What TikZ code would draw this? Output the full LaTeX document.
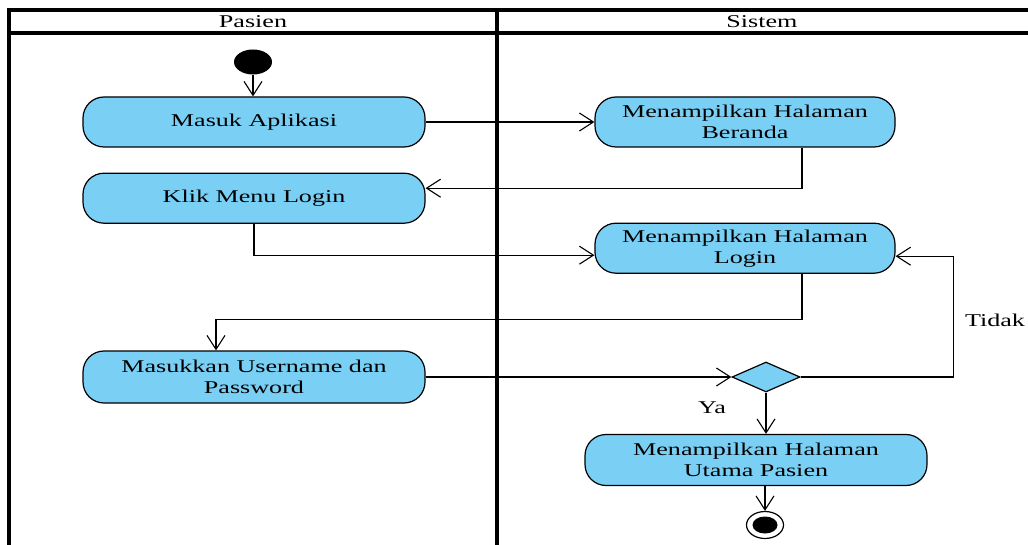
\documentclass[tikz,border=0pt]{standalone}
\usepackage{fontspec}
\setmainfont{Liberation Serif}[FakeStretch=1.45]
\usetikzlibrary{positioning, arrows.meta, shapes.geometric}
\definecolor{birumuda}{RGB}{122,207,244}

\begin{document}
\begin{tikzpicture}[x=1pt,y=-1pt,every node/.style={font=\fontsize{18}{21}\selectfont},
    aktivitas/.style={draw,line width=1.2pt,fill=birumuda,rounded corners=21pt,minimum height=50pt,align=center,inner sep=2pt},
    alur/.style={line width=1.1pt,-{Straight Barb[length=14pt,width=18pt]}},
    lajur/.style={line width=3.2pt}]
            % lajur Pasien dan Sistem
            \useasboundingbox (0,0) rectangle (1028,545);
            \draw[lajur] (9,545) |- (1028,10);
            \draw[lajur] (9,33) -- (1028,33);
            \draw[lajur] (497,10) -- (497,545);
            \node (hpasien) at (253,22) {Pasien};
            \node (hsistem) at (762,22) {Sistem};

            \node[ellipse,fill=black,minimum width=38pt,minimum height=25pt] (mulai) at (253,62) {};
            \node[aktivitas,minimum width=342pt] (masuk) at (254,122) {Masuk Aplikasi};
            \node[aktivitas,minimum width=342pt,below=25pt of masuk] (klik) {Klik Menu Login};
            \node[aktivitas,minimum width=300pt] (beranda) at (745,122) {Menampilkan Halaman\\Beranda};
            \node[aktivitas,minimum width=300pt,below=75pt of beranda] (login) {Menampilkan Halaman\\Login};
            \node[aktivitas,minimum width=342pt,minimum height=52pt] (masukkan) at (254,377) {Masukkan Username dan\\Password};
            \node[diamond,draw,line width=1.2pt,fill=birumuda,minimum width=68pt,minimum height=30pt,inner sep=0pt] (cek) at (766,377) {};
            \node[aktivitas,minimum width=342pt,minimum height=51pt] (utama) at (756,460) {Menampilkan Halaman\\Utama Pasien};
            \node[ellipse,draw,line width=1.2pt,minimum width=37pt,minimum height=27pt] (akhir) at (765,525) {};
            \node[ellipse,fill=black,minimum width=25pt,minimum height=17pt] (akhirisi) at (akhir) {};
            \node (ya) at (712,408) {Ya};
            \node (tidak) at (995,320) {Tidak};

            \draw[alur] (mulai) -- (mulai |- masuk.north);
            \draw[alur] (masuk) -- (beranda);
            \draw[alur] ([xshift=57pt]beranda.south) |- ([yshift=10pt]klik.east);
            \draw[alur] (klik.south) |- ([yshift=-7pt]login.west);
            \draw[alur] ([xshift=57pt]login.south) -- ++(0,46) -| ([xshift=-38pt]masukkan.north);
            \draw[alur] (masukkan) -- (cek);
            \draw[alur] (cek.east) -- ++(153,0) |- ([yshift=-8pt]login.east);
            \draw[alur] (cek) -- (cek |- utama.north);
            \draw[alur] (utama.south -| akhir) -- (akhir);
        \end{tikzpicture}
\end{document}
